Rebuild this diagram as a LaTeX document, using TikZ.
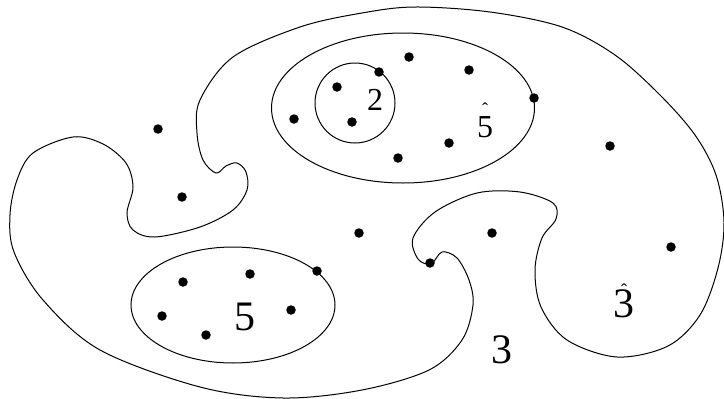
\documentclass[tikz,border=0pt]{standalone}
\usepackage{fontspec}
\setmainfont{Liberation Serif}
\usepackage{tikz}
\usetikzlibrary{positioning}
% digit with a small circumflex over it
\newcommand{\hatnum}[2][20pt]{\ooalign{#2\cr\hidewidth\raisebox{#1}{\fontsize{18}{18}\selectfont\char"02C6}\hidewidth\cr}}

\begin{document}
\begin{tikzpicture}[
  x=1pt, y=-1pt,
  line width=1pt,
  dot/.style={circle, fill=black, inner sep=0pt, minimum size=9.5pt},
  biglbl/.style={anchor=base, inner sep=0pt, font=\fontsize{42}{42}\selectfont},
  smalllbl/.style={anchor=base, inner sep=0pt, font=\fontsize{32}{32}\selectfont}
]
\useasboundingbox (0,0) rectangle (724,399);

% the big winding set
\draw plot[smooth cycle, tension=0.55] coordinates {
  (415,7) (490,12) (562,27) (615,55) (660,95) (695,135) (716,175) (724,222)
  (718,268) (700,315) (668,346) (617,357) (567,340) (541,307) (535,270)
  (542,238) (556,219) (553,203) (520,192) (477,193) (435,212) (413,238)
  (418,259) (431,264) (442,252) (457,258) (469,280) (473,305) (462,340)
  (429,370) (362,390) (283,398) (200,387) (100,350) (43,300) (14,252)
  (10,215) (17,180) (33,153) (73,137) (103,144) (126,163) (133,187)
  (127,213) (133,230) (155,237) (200,227) (233,210) (247,190) (246,172)
  (237,163) (226,166) (216,173) (203,160) (197,133) (200,100) (233,57)
  (300,27) (362,13)};

% the smaller sets
\draw (403,108) ellipse [x radius=131.5pt, y radius=75pt];
\draw (355,103) circle [radius=40pt];
\draw (233,305) ellipse [x radius=102pt, y radius=58pt];

% points
\foreach \px/\py [count=\i] in {337/87, 352/122, 379/72, 294/119, 409/57,
  469/70, 449/143, 398/158, 534/98, 158/129, 182/197, 610/146, 359/233,
  492/233, 430/263, 671/247, 183/282, 250/274, 162/316, 206/335, 291/310,
  317/271}
  \node[dot] (p\i) at (\px,\py) {};

% labels
\node[smalllbl] (lbltwo) at (375,110) {2};
\node[smalllbl] (lblfivehat) at (485,137) {\hatnum[22pt]{5}};
\node[biglbl] (lblfive) at (245,330) {5};
\node[biglbl] (lblthree) at (502,363) {3};
\node[biglbl] (lblthreehat) at (624,317) {\hatnum[21pt]{3}};

\end{tikzpicture}
\end{document}
